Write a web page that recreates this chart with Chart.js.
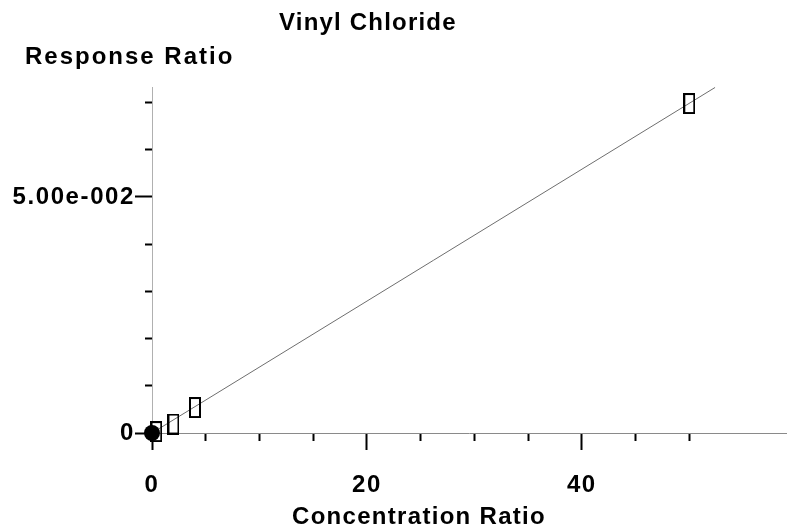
<!DOCTYPE html>
<html>
<head>
<meta charset="utf-8">
<script src="https://cdn.jsdelivr.net/npm/chart.js@4"></script>
<style>
  html, body { margin: 0; padding: 0; background: #fff; }
  #wrap { width: 794px; height: 531px; }
</style>
</head>
<body>
<div id="wrap"><canvas id="calChart"></canvas></div>
<script>
'use strict';

const CHART_TITLE = 'Vinyl Chloride';
const X_TITLE = 'Concentration Ratio';
const Y_TITLE = 'Response Ratio';

// calibration standards (hollow boxes)
const STD_X = [0.4, 2, 4, 50];
const STD_Y = [0.0003, 0.0019, 0.0054, 0.0698];
// origin (filled dot)
const ORIGIN_X = [0];
const ORIGIN_Y = [0];
// fitted line end points
const FIT_X = [0, 52.4];
const FIT_Y = [0, 0.0732];

const X_TICKS = [0, 5, 10, 15, 20, 25, 30, 35, 40, 45, 50];
const X_MAJOR = [0, 20, 40];
const X_MAJOR_TEXT = ['0', '20', '40'];
const Y_TICKS = [0, 0.01, 0.02, 0.03, 0.04, 0.05, 0.06, 0.07];
const Y_MAJOR = [0, 0.05];
const Y_MAJOR_TEXT = ['0', '5.00e-002'];

const FONT = '"Liberation Sans", Arial, sans-serif';
const SPACING = '1.6px';

function majorIndex(list, v) {
  return list.findIndex(m => Math.abs(m - v) < 1e-9);
}

function zip(xs, ys) {
  return xs.map((x, i) => ({ x, y: ys[i] }));
}

function boxMarker() {
  const c = document.createElement('canvas');
  c.width = 12; c.height = 21;
  const g = c.getContext('2d');
  g.strokeStyle = '#000';
  g.lineWidth = 2;
  g.strokeRect(1, 1, 10, 19);
  return c;
}

const spacingPlugin = {
  id: 'spacing',
  beforeUpdate(chart) { chart.ctx.letterSpacing = SPACING; },
  beforeDraw(chart) { chart.ctx.letterSpacing = SPACING; },
};

const textPlugin = {
  id: 'texts',
  afterDraw(chart) {
    const ctx = chart.ctx;
    ctx.save();
    ctx.fillStyle = '#000';
    ctx.textAlign = 'left';
    ctx.textBaseline = 'alphabetic';
    ctx.font = `bold 24px ${FONT}`;
    ctx.letterSpacing = '1.2px';
    ctx.fillText(CHART_TITLE, 279, 30);
    ctx.letterSpacing = '2px';
    ctx.fillText(Y_TITLE, 25, 64);
    ctx.letterSpacing = '1.3px';
    ctx.fillText(X_TITLE, 292, 524);
    ctx.restore();
  },
};

const ctx = document.getElementById('calChart');

new Chart(ctx, {
  type: 'scatter',
  data: {
    datasets: [
      {
        label: 'origin',
        data: zip(ORIGIN_X, ORIGIN_Y),
        pointStyle: 'circle',
        pointRadius: 8,
        backgroundColor: '#000',
        borderColor: '#000',
        borderWidth: 0,
        clip: false,
        order: 0,
      },
      {
        label: 'standards',
        data: zip(STD_X, STD_Y),
        pointStyle: boxMarker(),
        clip: false,
        order: 1,
      },
      {
        label: 'fit',
        data: zip(FIT_X, FIT_Y),
        showLine: true,
        pointRadius: 0,
        borderColor: '#6e6e6e',
        borderWidth: 1,
        clip: false,
        order: 2,
      },
    ],
  },
  options: {
    responsive: true,
    maintainAspectRatio: false,
    animation: false,
    layout: { padding: { top: 87, right: 6, left: 0, bottom: 0 } },
    plugins: {
      legend: { display: false },
      tooltip: { enabled: false },
      title: { display: false },
    },
    scales: {
      x: {
        type: 'linear',
        min: 0,
        max: 59,
        afterBuildTicks: s => { s.ticks = X_TICKS.map(v => ({ value: v })); },
        afterFit: s => { s.height = 98; },
        border: { color: '#8a8a8a', width: 1 },
        grid: {
          drawOnChartArea: false,
          tickLength: 17,
          tickWidth: 2,
          tickColor: '#000',
          tickBorderDash: c => majorIndex(X_MAJOR, c.tick.value) >= 0 ? [] : [7, 100],
        },
        ticks: {
          color: '#000',
          padding: 21,
          maxRotation: 0,
          autoSkip: false,
          font: { family: FONT, size: 24, weight: 'bold' },
          callback: v => { const i = majorIndex(X_MAJOR, v); return i >= 0 ? X_MAJOR_TEXT[i] : ''; },
        },
      },
      y: {
        type: 'linear',
        min: 0,
        max: 0.0733,
        afterBuildTicks: s => { s.ticks = Y_TICKS.map(v => ({ value: v })); },
        afterFit: s => { s.width = 152; },
        border: { color: '#b0b0b0', width: 1 },
        grid: {
          drawOnChartArea: false,
          tickLength: 17,
          tickWidth: 2,
          tickColor: '#000',
          tickBorderDash: c => majorIndex(Y_MAJOR, c.tick.value) >= 0 ? [] : [0, 10, 7, 100],
        },
        ticks: {
          color: '#000',
          padding: 0,
          autoSkip: false,
          font: { family: FONT, size: 24, weight: 'bold' },
          callback: v => { const i = majorIndex(Y_MAJOR, v); return i >= 0 ? Y_MAJOR_TEXT[i] : ''; },
        },
      },
    },
  },
  plugins: [spacingPlugin, textPlugin],
});
</script>
</body>
</html>
